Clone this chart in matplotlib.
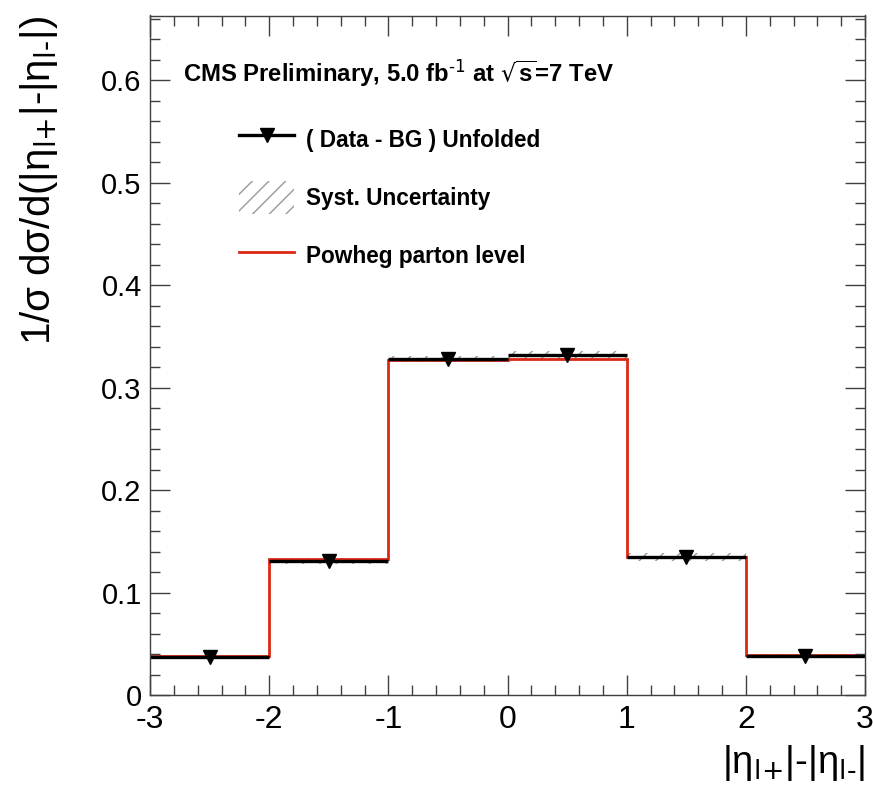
import matplotlib
matplotlib.use("Agg")
import matplotlib.pyplot as plt
from matplotlib.lines import Line2D
from matplotlib.patches import Patch
from matplotlib.ticker import MultipleLocator, FuncFormatter
import numpy as np

# |eta(l+)| - |eta(l-)| binning and normalised cross sections
bin_edges = [-3, -2, -1, 0, 1, 2, 3]
data_unfolded = [0.037, 0.131, 0.328, 0.332, 0.135, 0.038]
syst_unc = [0.002, 0.003, 0.003, 0.004, 0.004, 0.002]
powheg = [0.038, 0.133, 0.327, 0.328, 0.135, 0.039]

header = r"CMS Preliminary, 5.0 fb$^{\text{-1}}$ at $\sqrt{s}$=7 TeV"
legend_labels = ["( Data - BG ) Unfolded", "Syst. Uncertainty", "Powheg parton level"]
eta_diff = r"|η$_{\text{l+}}$|-|η$_{\text{l-}}$|"

plt.rcParams["font.family"] = ["Liberation Sans", "DejaVu Sans"]
plt.rcParams["mathtext.default"] = "regular"
plt.rcParams["axes.unicode_minus"] = False
plt.rcParams["hatch.linewidth"] = 1.0

RED = "#dc2814"

edges = np.array(bin_edges, dtype=float)
centers = 0.5 * (edges[:-1] + edges[1:])
half_widths = 0.5 * np.diff(edges)
data = np.array(data_unfolded)
syst = np.array(syst_unc)

fig = plt.figure(figsize=(8.73, 7.93), dpi=100)
ax = fig.add_axes([150 / 873, 98 / 793, 715 / 873, 679.5 / 793])

# systematic band, prediction, then unfolded data on top
ax.stairs(data + syst, edges, baseline=data - syst, fill=True, facecolor="none",
          edgecolor="0.6", linewidth=0, hatch="//")
ax.stairs(powheg, edges, baseline=None, color=RED, linewidth=2.0)
ax.errorbar(centers, data, xerr=half_widths, fmt="v", color="k", ms=10,
            elinewidth=2.4, capsize=0)

ax.set_xlim(-3, 3)
ax.set_ylim(0, 0.663)
ax.xaxis.set_major_locator(MultipleLocator(1))
ax.xaxis.set_minor_locator(MultipleLocator(0.2))
ax.yaxis.set_major_locator(MultipleLocator(0.1))
ax.yaxis.set_minor_locator(MultipleLocator(0.02))
ax.yaxis.set_major_formatter(FuncFormatter(lambda v, p: f"{v:g}"))
ax.xaxis.set_major_formatter(FuncFormatter(lambda v, p: f"{v:g}"))

ax.tick_params(which="both", direction="in", top=True, right=True, width=1, color="0.25")
ax.tick_params(which="major", length=14.5)
ax.tick_params(which="minor", length=7.5)
ax.tick_params(axis="x", labelsize=23, pad=7)
ax.tick_params(axis="y", labelsize=21, pad=6)
for s in ax.spines.values():
    s.set_linewidth(1.0)
    s.set_color("0.25")

ax.set_ylabel(r"1/σ dσ/d(" + eta_diff + ")", fontsize=29, loc="top", labelpad=30)
ax.set_xlabel(eta_diff, fontsize=27.5, loc="right", labelpad=6)

fig.text(183 / 873, 1 - 82 / 793, header, fontsize=17.2, fontweight="bold",
         va="baseline", ha="left")

handles = [
    Line2D([], [], color="k", lw=2.4, marker="v", ms=10),
    Patch(facecolor="none", edgecolor="0.6", hatch="//", linewidth=0),
    Line2D([], [], color=RED, lw=2.0),
]
leg = ax.legend(handles, legend_labels, loc="upper left",
                bbox_to_anchor=(239 / 873, 1 - 123 / 793), bbox_transform=fig.transFigure,
                frameon=False, borderpad=0, borderaxespad=0, handlelength=2.45,
                handleheight=1.85, handletextpad=0.5, labelspacing=1.13,
                prop={"size": 16.3, "weight": "bold"})

fig.savefig("out.png", dpi=100)
